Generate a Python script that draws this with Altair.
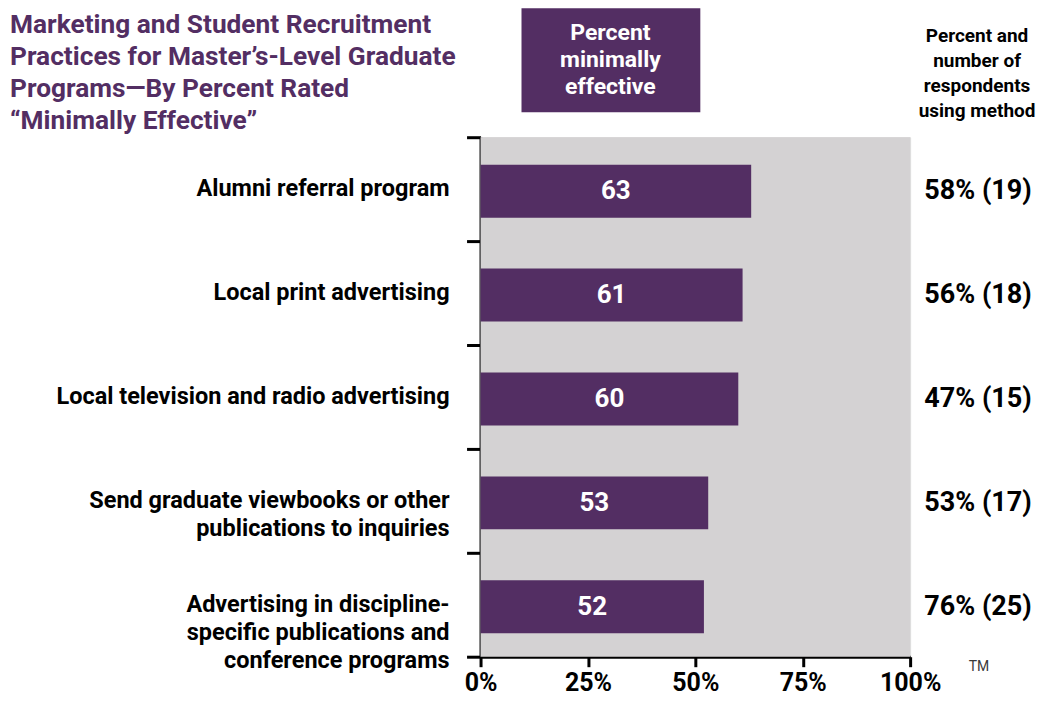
import altair as alt
import pandas as pd

# ---- data ----
categories = [
    "Alumni referral program",
    "Local print advertising",
    "Local television and radio advertising",
    "Send graduate viewbooks or other|publications to inquiries",
    "Advertising in discipline-|specific publications and|conference programs",
]
values = [63, 61, 60, 53, 52]
usage = ["58% (19)", "56% (18)", "47% (15)", "53% (17)", "76% (25)"]
x_ticks = [0, 25, 50, 75, 100]
title_lines = [
    "Marketing and Student Recruitment",
    "Practices for Master\u2019s-Level Graduate",
    "Programs\u2014By Percent Rated",
    "\u201cMinimally Effective\u201d",
]
header_lines = ["Percent", "minimally", "effective"]
right_header_lines = ["Percent and", "number of", "respondents", "using method"]

df = pd.DataFrame({"cat": categories, "v": values, "usage": usage})

FONT = "Roboto"
PURPLE = "#532E63"
GRAY = "#D4D2D3"

x_enc = alt.X(
    "v:Q",
    scale=alt.Scale(domain=[0, 100], nice=False),
    axis=alt.Axis(
        values=x_ticks, labelExpr="datum.value + '%'", title=None, grid=False,
        domainColor="black", domainWidth=3, tickColor="black", tickWidth=3,
        tickSize=10, labelFont=FONT, labelFontSize=25, labelFontWeight="bold",
        labelColor="black", labelPadding=4, labelFlush=False,
    ),
)
y_enc = alt.Y(
    "cat:N", sort=categories,
    scale=alt.Scale(paddingInner=0, paddingOuter=0),
    axis=alt.Axis(
        labels=False, title=None, tickBand="extent", domainColor="black",
        domainWidth=3, tickColor="black", tickWidth=3, tickSize=14, grid=False,
    ),
)

base = alt.Chart(df)

background = alt.Chart(pd.DataFrame({"lo": [0], "hi": [100]})).mark_rect(color=GRAY).encode(
    x=alt.X("lo:Q"), x2="hi:Q", y=alt.value(0), y2=alt.value(520)
)

bars = base.mark_bar(color=PURPLE, size=53, yOffset=2).encode(x=x_enc, y=y_enc)

bar_text = base.transform_calculate(mid="datum.v / 2").mark_text(
    color="white", font=FONT, fontSize=26, fontWeight="bold", yOffset=2
).encode(x=alt.X("mid:Q"), y=alt.Y("cat:N", sort=categories), text=alt.Text("v:Q"))

cat_labels = base.mark_text(
    align="right", baseline="middle", font=FONT, fontSize=23.5, fontWeight="bold",
    color="black", lineBreak="|", lineHeight=28,
).encode(x=alt.value(-31), y=alt.Y("cat:N", sort=categories), text="cat:N")

usage_text = base.mark_text(
    align="center", baseline="middle", font=FONT, fontSize=27, fontWeight="bold",
    color="black", yOffset=2,
).encode(x=alt.value(498), y=alt.Y("cat:N", sort=categories), text="usage:N")

title = alt.Chart(pd.DataFrame({"t": ["|".join(title_lines)]})).mark_text(
    align="left", baseline="top", font=FONT, fontSize=26.3, fontWeight="bold",
    color=PURPLE, lineBreak="|", lineHeight=32,
).encode(x=alt.value(-471), y=alt.value(-125), text="t:N")

header_rect = alt.Chart(pd.DataFrame({"a": [0]})).mark_rect(color=PURPLE).encode(
    x=alt.value(41), x2=alt.value(220), y=alt.value(-129), y2=alt.value(-25)
)

header_text = alt.Chart(pd.DataFrame({"t": ["|".join(header_lines)]})).mark_text(
    align="center", baseline="top", font=FONT, fontSize=23, fontWeight="bold",
    color="white", lineBreak="|", lineHeight=27,
).encode(x=alt.value(130), y=alt.value(-115), text="t:N")

right_header = alt.Chart(pd.DataFrame({"t": ["|".join(right_header_lines)]})).mark_text(
    align="center", baseline="top", font=FONT, fontSize=19, fontWeight="bold",
    color="black", lineBreak="|", lineHeight=25,
).encode(x=alt.value(497), y=alt.value(-110), text="t:N")

tm = alt.Chart(pd.DataFrame({"t": ["TM"]})).mark_text(
    align="center", baseline="middle", font=FONT, fontSize=14, color="#3a3a3a",
).encode(x=alt.value(499), y=alt.value(530), text="t:N")

chart = alt.layer(
    background, bars, bar_text, cat_labels, usage_text, title, header_rect,
    header_text, right_header, tm,
).properties(
    width=430, height=520,
    padding={"left": 473, "top": 129, "right": 126, "bottom": 40},
    autosize=alt.AutoSizeParams(type="none"),
).configure_view(strokeWidth=0).configure(background="white")

chart.save("out.html", embed_options={"renderer": "svg", "actions": False})
